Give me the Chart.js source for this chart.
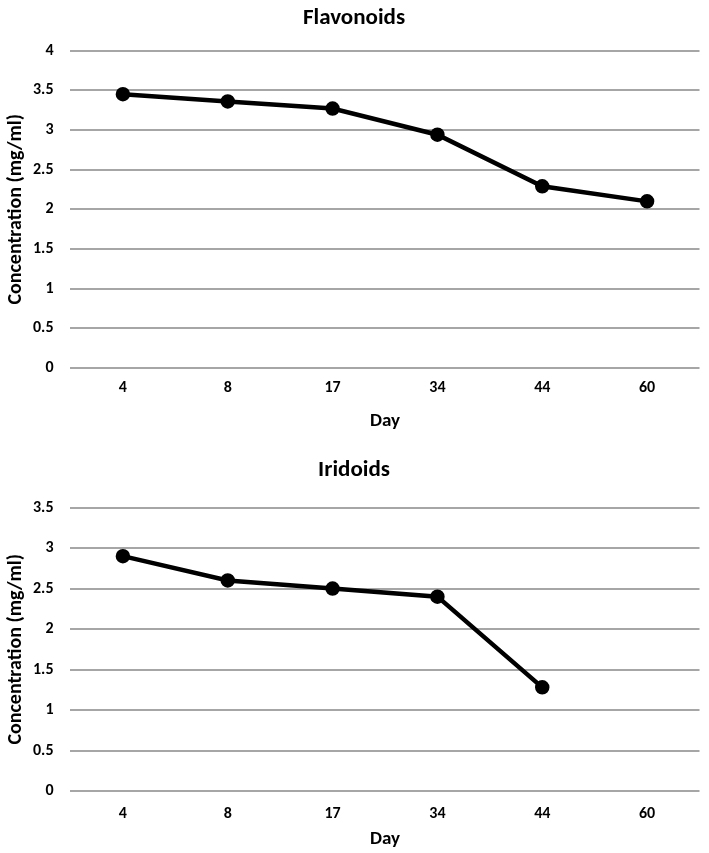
<!DOCTYPE html>
<html>
<head>
<meta charset="utf-8">
<script src="https://cdn.jsdelivr.net/npm/chart.js@4"></script>
<style>
html,body{margin:0;padding:0;background:#fff;}
.wrap{position:relative;width:709px;}
canvas{display:block;}
</style>
</head>
<body>
<div class="wrap"><canvas id="c1" width="709" height="430"></canvas></div>
<div class="wrap"><canvas id="c2" width="709" height="423"></canvas></div>
<script>
const days = ["4", "8", "17", "34", "44", "60"];
const flavonoids = [3.45, 3.36, 3.27, 2.94, 2.29, 2.10];
const iridoids = [2.90, 2.60, 2.50, 2.40, 1.28, null];
const flavTicks = [0, 0.5, 1, 1.5, 2, 2.5, 3, 3.5, 4];
const iridTicks = [0, 0.5, 1, 1.5, 2, 2.5, 3, 3.5];

const FONT = "Carlito, Lato, sans-serif";

function makeChart(id, title, data, yTicks, pad) {
  return new Chart(document.getElementById(id), {
    type: 'line',
    data: {
      labels: days,
      datasets: [{
        data: data,
        borderColor: '#000',
        backgroundColor: '#000',
        borderWidth: 4.5,
        pointRadius: 5,
        pointBackgroundColor: '#000',
        pointBorderColor: '#000',
        tension: 0,
        spanGaps: false
      }]
    },
    options: {
      responsive: false,
      animation: false,
      layout: { padding: pad.layout },
      plugins: {
        legend: { display: false },
        tooltip: { enabled: false },
        title: {
          display: true,
          text: title,
          color: '#000',
          font: { family: FONT, size: 23, weight: 'bold' },
          padding: pad.title
        }
      },
      scales: {
        x: {
          offset: true,
          grid: { display: false, drawTicks: false, offset: true },
          border: { display: false },
          afterFit: (s) => { s.paddingRight = 0; s.paddingLeft = 0; },
          ticks: { color: '#000', font: { family: FONT, size: 16, weight: 'bold' }, padding: pad.xTick },
          title: { display: true, text: 'Day', color: '#000', font: { family: FONT, size: 19, weight: 'bold' }, padding: pad.xTitle }
        },
        y: {
          min: 0, max: yTicks[yTicks.length - 1],
          grid: { color: '#a6a6a6', lineWidth: 2, drawTicks: false },
          border: { display: false },
          afterBuildTicks: (axis) => { axis.ticks = yTicks.map(v => ({ value: v })); },
          ticks: { color: '#000', font: { family: FONT, size: 16, weight: 'bold' }, padding: 17, callback: (v) => String(v) },
          title: { display: true, text: 'Concentration (mg/ml)', color: '#000', font: { family: FONT, size: 20, weight: 'bold' }, padding: { top: 0, bottom: -12 } }
        }
      }
    }
  });
}

makeChart('c1', 'Flavonoids', flavonoids, flavTicks, {
  layout: { top: 4, bottom: 0, left: 4, right: 5 },
  title: { top: 0, bottom: 19 },
  xTick: 10, xTitle: { top: 3, bottom: -3 }
});
makeChart('c2', 'Iridoids', iridoids, iridTicks, {
  layout: { top: 26, bottom: 2, left: 4, right: 5 },
  title: { top: 0, bottom: 24 },
  xTick: 13, xTitle: { top: -8, bottom: 0 }
});
</script>
</body>
</html>
